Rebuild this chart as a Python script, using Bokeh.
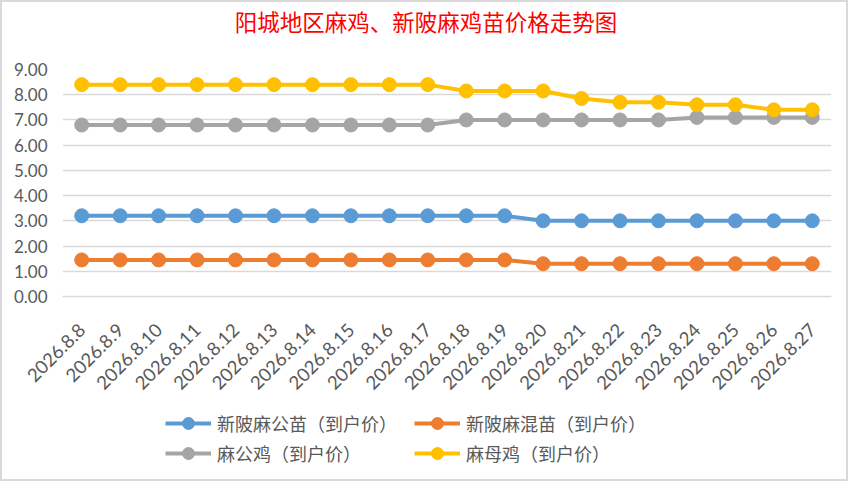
from math import pi
from bokeh.plotting import figure
from bokeh.layouts import column
from bokeh.models import (Range1d, FixedTicker, NumeralTickFormatter, Legend,
                          LegendItem, Label)
from bokeh.embed import file_html
from bokeh.resources import INLINE

title_text = "阳城地区麻鸡、新陂麻鸡苗价格走势图"

dates = ["2026.8.8", "2026.8.9", "2026.8.10", "2026.8.11", "2026.8.12",
         "2026.8.13", "2026.8.14", "2026.8.15", "2026.8.16", "2026.8.17",
         "2026.8.18", "2026.8.19", "2026.8.20", "2026.8.21", "2026.8.22",
         "2026.8.23", "2026.8.24", "2026.8.25", "2026.8.26", "2026.8.27"]

series_names = ["新陂麻公苗（到户价）", "新陂麻混苗（到户价）",
                "麻公鸡（到户价）", "麻母鸡（到户价）"]

gongmiao = [3.2, 3.2, 3.2, 3.2, 3.2, 3.2, 3.2, 3.2, 3.2, 3.2,
            3.2, 3.2, 3.0, 3.0, 3.0, 3.0, 3.0, 3.0, 3.0, 3.0]
hunmiao = [1.45, 1.45, 1.45, 1.45, 1.45, 1.45, 1.45, 1.45, 1.45, 1.45,
           1.45, 1.45, 1.3, 1.3, 1.3, 1.3, 1.3, 1.3, 1.3, 1.3]
gongji = [6.8, 6.8, 6.8, 6.8, 6.8, 6.8, 6.8, 6.8, 6.8, 6.8,
          7.0, 7.0, 7.0, 7.0, 7.0, 7.0, 7.1, 7.1, 7.1, 7.1]
muji = [8.4, 8.4, 8.4, 8.4, 8.4, 8.4, 8.4, 8.4, 8.4, 8.4,
        8.15, 8.15, 8.15, 7.85, 7.7, 7.7, 7.6, 7.6, 7.4, 7.4]

y_ticks = [0, 1, 2, 3, 4, 5, 6, 7, 8, 9]

colors = ["#5B9BD5", "#ED7D31", "#A5A5A5", "#FFC000"]
all_series = [gongmiao, hunmiao, gongji, muji]

W = 848
H_TITLE = 44
H_MAIN = 354
H_LEG = 83
LEFT = 60
RIGHT = 19
BORDER = "2px solid #D9D9D9"

# ---- title strip ----
pt = figure(width=W, height=H_TITLE, output_backend="svg", toolbar_location=None,
            x_range=Range1d(LEFT, W - RIGHT), y_range=Range1d(0, H_TITLE),
            x_axis_location=None, y_axis_location=None, min_border=0,
            min_border_left=LEFT, min_border_right=RIGHT)
pt.outline_line_color = None
pt.grid.visible = False
pt.styles = {"border-top": BORDER, "border-left": BORDER, "border-right": BORDER}
pt.add_layout(Label(x=423.5, y=26, text=title_text, text_align="center",
                    text_baseline="middle", text_color="#FF0000",
                    text_font="Noto Sans CJK SC", text_font_size="22.5px"))

# ---- main chart ----
p = figure(x_range=dates, y_range=Range1d(0, 9), width=W, height=H_MAIN,
           output_backend="svg", toolbar_location=None,
           min_border_left=LEFT, min_border_right=RIGHT, min_border_top=25,
           min_border_bottom=H_MAIN - 25 - 227)
p.styles = {"border-left": BORDER, "border-right": BORDER}
p.outline_line_color = None

p.xgrid.grid_line_color = None
p.ygrid.grid_line_color = "#D9D9D9"
p.ygrid.grid_line_width = 1.5
p.ygrid.ticker = FixedTicker(ticks=y_ticks)

p.yaxis.ticker = FixedTicker(ticks=y_ticks)
p.yaxis.formatter = NumeralTickFormatter(format="0.00")
p.yaxis.axis_line_color = None
p.yaxis.major_tick_line_color = None
p.yaxis.minor_tick_line_color = None
p.yaxis.major_tick_out = 0
p.yaxis.major_label_standoff = 15
p.yaxis.major_label_text_font = "Lato"
p.yaxis.major_label_text_font_size = "17px"
p.yaxis.major_label_text_color = "#595959"

p.xaxis.axis_line_color = "#D9D9D9"
p.xaxis.axis_line_width = 1.5
p.xaxis.major_tick_line_color = None
p.xaxis.minor_tick_line_color = None
p.xaxis.major_tick_out = 0
p.xaxis.major_label_orientation = pi / 4
p.xaxis.major_label_standoff = 30
p.xaxis.major_label_text_font = "Lato"
p.xaxis.major_label_text_font_size = "18.5px"
p.xaxis.major_label_text_color = "#595959"

for vals, col in zip(all_series, colors):
    p.line(dates, vals, line_color=col, line_width=4)
    p.scatter(dates, vals, size=14, fill_color=col, line_color=col)

# ---- legend strip (same series, drawn outside its own view; only the key shows) ----
pl = figure(x_range=dates, y_range=Range1d(-20, -19), width=W, height=H_LEG,
            output_backend="svg", toolbar_location=None,
            x_axis_location=None, y_axis_location=None, min_border=0,
            min_border_left=LEFT, min_border_right=RIGHT)
pl.outline_line_color = None
pl.grid.visible = False
pl.styles = {"border-bottom": BORDER, "border-left": BORDER, "border-right": BORDER}

items = []
for name, vals, col in zip(series_names, all_series, colors):
    r1 = pl.line(dates, vals, line_color=col, line_width=4)
    r2 = pl.scatter(dates, vals, size=14, fill_color=col, line_color=col)
    items.append(LegendItem(label=name, renderers=[r1, r2]))

legend = Legend(items=items, location=(163 - LEFT, 13), orientation="horizontal", ncols=2,
                border_line_color=None, background_fill_alpha=0,
                padding=0, margin=0, spacing=0,
                glyph_width=46, glyph_height=30, label_height=30, label_width=197,
                label_standoff=6,
                label_text_font="Noto Sans CJK SC", label_text_font_size="18px",
                label_text_color="#595959")
pl.add_layout(legend)

layout = column(pt, p, pl, spacing=0)
open("out.html", "w").write(file_html(layout, INLINE))
